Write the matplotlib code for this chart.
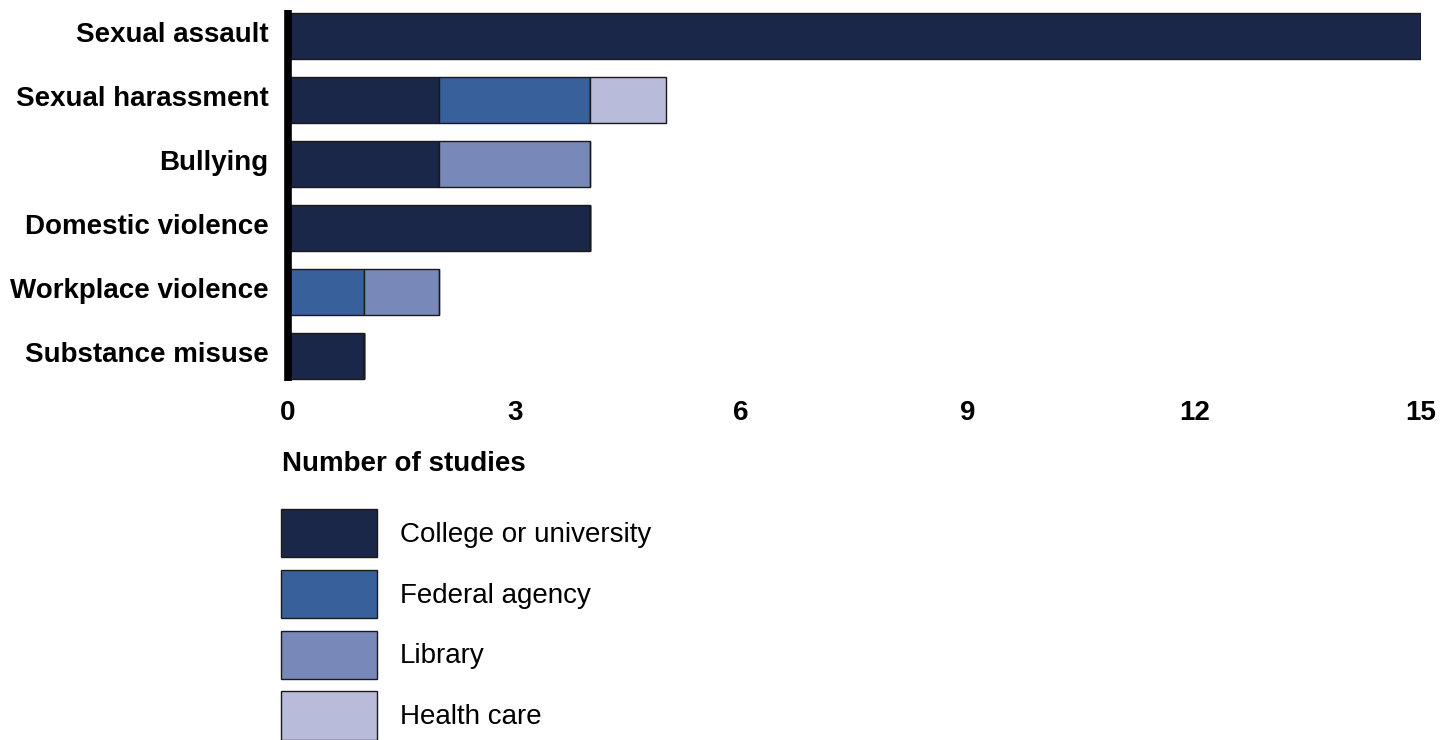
import matplotlib
matplotlib.use("Agg")
import matplotlib.pyplot as plt
import matplotlib.transforms as mtransforms
import numpy as np

plt.rcParams['font.family'] = ['Liberation Sans', 'DejaVu Sans']

categories = ["Sexual assault", "Sexual harassment", "Bullying",
              "Domestic violence", "Workplace violence", "Substance misuse"]
college = [15, 2, 2, 4, 0, 1]
federal = [0, 2, 0, 0, 1, 0]
library = [0, 0, 2, 0, 1, 0]
health = [0, 1, 0, 0, 0, 0]

series = [("College or university", college, "#1b2748"),
          ("Federal agency", federal, "#38619c"),
          ("Library", library, "#7888b8"),
          ("Health care", health, "#b8bcda")]
xticks = [0, 3, 6, 9, 12, 15]

W, H = 1456, 740
fig = plt.figure(figsize=(W / 100, H / 100), dpi=100)
ax = fig.add_axes([288 / W, 1 - 381 / H, (1421 - 288) / W, (381 - 10) / H])

y = np.arange(len(categories))
left = np.zeros(len(categories))
handles = []
for name, vals, color in series:
    vals = np.array(vals, dtype=float)
    bars = ax.barh(y, vals, left=left, height=0.72, color=color,
                   edgecolor="#1a1a1a", linewidth=1.0, label=name)
    handles.append(bars)
    left += vals

ax.set_ylim(5.39, -0.41)
ax.set_xlim(0, 15)
ax.set_yticks(y)
ax.set_yticklabels(categories, fontsize=20, fontweight="bold")
ax.set_xticks(xticks)
ax.set_xticklabels([str(t) for t in xticks], fontsize=20, fontweight="bold")
ax.tick_params(axis="both", length=0)
ax.tick_params(axis="y", pad=14)
ax.tick_params(axis="x", pad=14)

# labels sit a little above the bar centres in the original
shift = mtransforms.ScaledTranslation(0, 3 / 72, fig.dpi_scale_trans)
for lbl in ax.get_yticklabels():
    lbl.set_transform(lbl.get_transform() + shift)

for s in ["top", "right", "bottom"]:
    ax.spines[s].set_visible(False)
ax.spines["left"].set_linewidth(5.5)
ax.spines["left"].set_color("black")
ax.spines["left"].set_capstyle("butt")
ax.set_zorder(1)

fig.text(282 / W, 1 - 464 / H, "Number of studies", fontsize=20,
         fontweight="bold", ha="left", va="center")

fig.legend(handles=handles, loc="upper left",
           bbox_to_anchor=(281 / W, 1 - 509 / H), frameon=False,
           fontsize=20, handlelength=3.45, handleheight=2.3,
           labelspacing=0.45, handletextpad=0.83, borderpad=0,
           borderaxespad=0)

fig.savefig("out.png", dpi=100)
